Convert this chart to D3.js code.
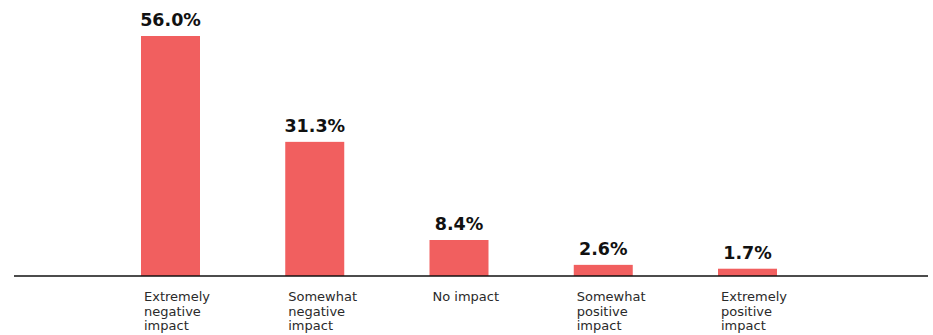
<!DOCTYPE html>
<html>
<head>
<meta charset="utf-8">
<script src="https://cdn.jsdelivr.net/npm/d3@7"></script>
<style>
  html, body { margin: 0; padding: 0; background: #fff; }
  svg { display: block; }
</style>
</head>
<body>
<svg id="chart" width="933" height="335"></svg>
<script>
// Survey responses: perceived impact
const categories = [
  ["Extremely", "negative", "impact"],
  ["Somewhat", "negative", "impact"],
  ["No impact"],
  ["Somewhat", "positive", "impact"],
  ["Extremely", "positive", "impact"]
];
const values = [56.0, 31.3, 8.4, 2.6, 1.7];
const valueLabels = ["56.0%", "31.3%", "8.4%", "2.6%", "1.7%"];

const svg = d3.select("#chart");
const baseY = 276;
const keys = categories.map((c, i) => i);

const x = d3.scaleBand()
  .domain(keys)
  .range([141, 777])
  .paddingInner(0.591)
  .paddingOuter(0);

const y = d3.scaleLinear()
  .domain([0, 56])
  .range([baseY, 36]);

// bars
svg.append("g")
  .selectAll("rect")
  .data(values)
  .join("rect")
  .attr("x", (d, i) => x(i))
  .attr("y", d => y(d))
  .attr("width", x.bandwidth())
  .attr("height", d => baseY - y(d))
  .attr("fill", "#f15f5f");

// value labels
svg.append("g")
  .selectAll("text")
  .data(values)
  .join("text")
  .attr("x", (d, i) => x(i) + x.bandwidth() / 2)
  .attr("y", d => y(d) - 10)
  .attr("text-anchor", "middle")
  .attr("font-family", "'DejaVu Sans', sans-serif")
  .attr("font-weight", "bold")
  .attr("font-size", 17.5)
  .attr("fill", "#111")
  .text((d, i) => valueLabels[i]);

// baseline
svg.append("line")
  .attr("x1", 14)
  .attr("x2", 928)
  .attr("y1", baseY)
  .attr("y2", baseY)
  .attr("stroke", "#111")
  .attr("stroke-width", 1.6);

// category labels, left aligned under each bar
const cat = svg.append("g")
  .selectAll("text")
  .data(categories)
  .join("text")
  .attr("x", (d, i) => x(i) + 3)
  .attr("y", 301)
  .attr("font-family", "'DejaVu Sans', sans-serif")
  .attr("font-size", 13)
  .attr("fill", "#2a2a2a");

cat.selectAll("tspan")
  .data((d, i) => d.map(line => ({ line, i })))
  .join("tspan")
  .attr("x", d => x(d.i) + 3)
  .attr("dy", (d, j) => j === 0 ? 0 : 14.5)
  .text(d => d.line);
</script>
</body>
</html>
